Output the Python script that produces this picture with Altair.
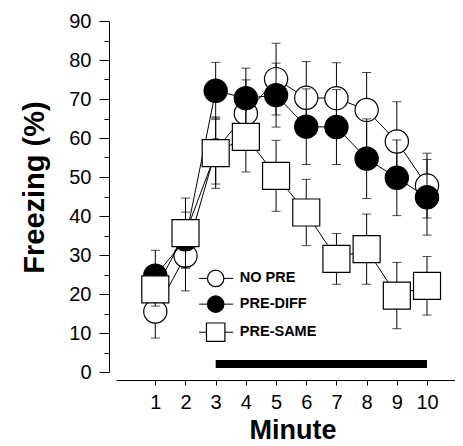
import altair as alt
import pandas as pd

# ---- data ----
minutes = [1, 2, 3, 4, 5, 6, 7, 8, 9, 10]
series_names = ["NO PRE", "PRE-DIFF", "PRE-SAME"]

nopre = [15.5, 29.8, 56.8, 66.3, 75.1, 70.3, 70.2, 67.2, 59.1, 47.8]
nopre_sem = [6.8, 9.0, 8.6, 8.6, 9.2, 9.3, 9.1, 9.6, 10.2, 8.3]

prediff = [24.7, 34.0, 72.1, 70.2, 71.0, 62.9, 62.8, 54.7, 49.8, 44.8]
prediff_sem = [6.5, 7.0, 7.3, 7.7, 8.2, 9.7, 9.6, 10.2, 9.7, 9.7]

presame = [21.2, 35.6, 56.1, 60.3, 50.3, 40.9, 29.0, 31.5, 19.6, 22.1]
presame_sem = [4.3, 9.0, 9.0, 9.0, 9.1, 8.5, 6.5, 9.0, 8.5, 7.5]

y_ticks = [0, 10, 20, 30, 40, 50, 60, 70, 80, 90]
y_minor = [5, 15, 25, 35, 45, 55, 65, 75, 85]

bar_minutes = [3, 10]   # black bar (stimulus period)
bar_level = 2.05

legend_levels = [24.0, 17.4, 10.2]

values = [nopre, prediff, presame]
sems = [nopre_sem, prediff_sem, presame_sem]
shapes = ["circle", "circle", "square"]
fills = ["white", "black", "white"]
sizes = [540, 540, 730]
legend_sizes = [270, 270, 340]

FONT = "Liberation Sans"
X_DOMAIN = [-0.302, 10.927]
Y_DOMAIN = [0, 90]

xs = alt.Scale(domain=X_DOMAIN, nice=False, zero=False)
ys = alt.Scale(domain=Y_DOMAIN, nice=False, zero=False)

x_axis = alt.Axis(
    values=minutes, title="Minute", titleFont=FONT, titleFontSize=27,
    titleFontWeight="bold", titleColor="black", titleX=176.5, titleY=58,
    titleBaseline="alphabetic", titleAlign="center",
    labelFont=FONT, labelFontSize=20, labelColor="black", labelPadding=7,
    labelFlush=False, labelOverlap=False,
    tickSize=5, tickColor="black", tickWidth=1,
    domainColor="black", domainWidth=1, offset=8, grid=False,
)
y_axis = alt.Axis(
    values=y_ticks, title="Freezing (%)", titleFont=FONT, titleFontSize=29,
    titleFontWeight="bold", titleColor="black", titleX=-66, titleY=166,
    titleAngle=270, titleBaseline="alphabetic", titleAlign="center",
    labelFont=FONT, labelFontSize=20, labelColor="black", labelPadding=8,
    labelFlush=False, labelOverlap=False,
    tickSize=10, tickColor="black", tickWidth=1,
    domainColor="black", domainWidth=1, offset=7, grid=False,
)


def X(field):
    return alt.X(field, scale=xs, axis=x_axis, title="Minute")


def Y(field):
    return alt.Y(field, scale=ys, axis=y_axis, title="Freezing (%)")


layers = []

# stimulus bar
bar_df = pd.DataFrame({"start": [bar_minutes[0]], "end": [bar_minutes[1]], "lvl": [bar_level]})
layers.append(
    alt.Chart(bar_df).mark_rule(color="black", strokeWidth=8, strokeCap="butt").encode(
        x=X("start:Q"), x2="end:Q", y=Y("lvl:Q"),
    )
)

for name, vals, sem, shp, fil, sz in zip(series_names, values, sems, shapes, fills, sizes):
    df = pd.DataFrame({"minute": minutes, "value": vals, "sem": sem})
    df["lo"] = df["value"] - df["sem"]
    df["hi"] = df["value"] + df["sem"]
    base = alt.Chart(df)
    line = base.mark_line(color="black", strokeWidth=1).encode(
        x=X("minute:Q"), y=Y("value:Q"),
    )
    err = base.mark_rule(color="black", strokeWidth=1).encode(
        x=X("minute:Q"), y=Y("lo:Q"), y2="hi:Q",
    )
    caps = base.transform_fold(["lo", "hi"], as_=["end", "ev"]).mark_tick(
        orient="horizontal", size=9, thickness=1, color="black"
    ).encode(
        x=X("minute:Q"), y=Y("ev:Q"),
    )
    pts = base.mark_point(
        shape=shp, filled=True, fill=fil, stroke="black", strokeWidth=1.2,
        size=sz, opacity=1,
    ).encode(
        x=X("minute:Q"), y=Y("value:Q"),
    )
    layers += [line, err, caps, pts]

# legend drawn inside the plot
for name, lvl, shp, fil, sz in zip(series_names, legend_levels, shapes, fills, legend_sizes):
    ldf = pd.DataFrame({"x0": [2.45], "x1": [3.58], "xm": [3.0], "xt": [3.8], "y": [lvl], "label": [name]})
    lb = alt.Chart(ldf)
    layers.append(
        lb.mark_rule(color="black", strokeWidth=1).encode(
            x=X("x0:Q"), x2="x1:Q", y=Y("y:Q"),
        )
    )
    layers.append(
        lb.mark_point(shape=shp, filled=True, fill=fil, stroke="black",
                      strokeWidth=1.2, size=sz, opacity=1).encode(
            x=X("xm:Q"), y=Y("y:Q"),
        )
    )
    layers.append(
        lb.mark_text(align="left", baseline="middle", font=FONT, fontSize=14.5,
                     fontWeight="bold", color="black").encode(
            x=X("xt:Q"), y=Y("y:Q"), text="label:N",
        )
    )

main = alt.layer(*layers)

# minor ticks on the y axis
minor_df = pd.DataFrame({"v": y_minor})
minor = alt.Chart(minor_df).mark_point(opacity=0).encode(
    y=alt.Y("v:Q", scale=alt.Scale(domain=Y_DOMAIN, nice=False, zero=False),
            axis=alt.Axis(values=y_minor, orient="left", offset=7, tickSize=5,
                          labels=False, domain=False, title=None, grid=False,
                          tickColor="black", tickWidth=1))
)

chart = alt.layer(main, minor).resolve_scale(y="independent").properties(
    width=339, height=351,
    padding={"left": 108, "top": 13, "right": 0, "bottom": 74},
    autosize=alt.AutoSizeParams(type="none"),
    background="white",
).configure_view(stroke=None)

chart.save("out.html", embed_options={"renderer": "svg", "actions": False})
